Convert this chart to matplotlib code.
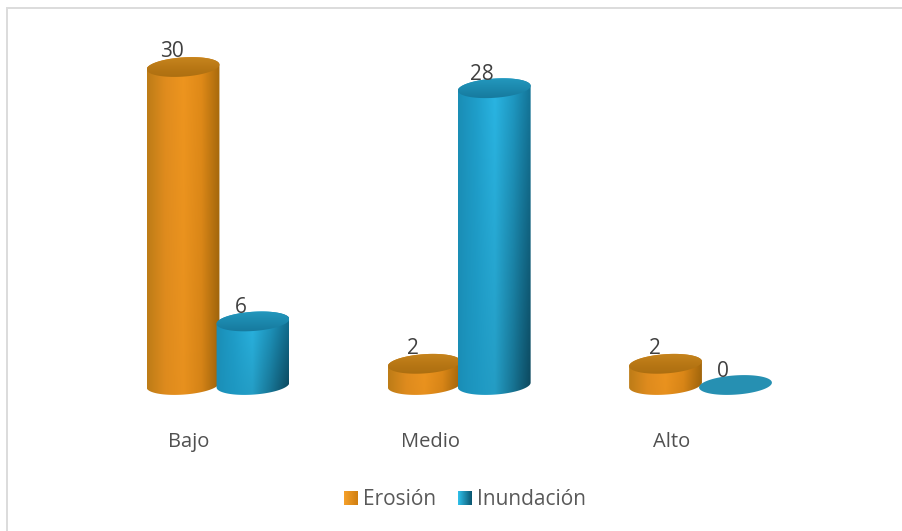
import matplotlib
matplotlib.use("Agg")
import matplotlib.pyplot as plt
import numpy as np
from matplotlib.colors import LinearSegmentedColormap
from matplotlib.patches import Polygon

categories = ["Bajo", "Medio", "Alto"]
erosion = [30, 2, 2]
inundacion = [6, 28, 0]

W, H = 902, 531
PX_X = 241.25  # pixels per category
PX_Y = 10.6  # pixels per unit of value
X0, Y0 = 218, 385

ORANGE = ["#bd7c17", "#e08c1e", "#ee951f", "#e08a18", "#a86a0c"]
ORANGE_CAP = ["#c8861f", "#b97815", "#ac6e10"]
BLUE = ["#1a8db5", "#1f9fcb", "#2ab6e4", "#1f9ac4", "#137396"]
BLUE_CAP = ["#2499bf", "#1c89ae", "#16799d"]

plt.rcParams["font.family"] = ["Open Sans", "DejaVu Sans"]

fig = plt.figure(figsize=(W / 100, H / 100), dpi=100)
ax = fig.add_axes([0, 0, 1, 1])
ax.axis("off")


def px_x(x):
    return (x - X0) / PX_X


def px_y(y):
    return (Y0 - y) / PX_Y


def ellipse(cx, cy, t):
    # slightly tilted ellipse, right side raised
    a, b, tilt = 36.5 / PX_X, 9.6 / PX_Y, np.radians(4)
    ex = a * np.cos(t)
    ey = b * np.sin(t)
    dx = ex * np.cos(tilt) - ey * np.sin(tilt) * PX_Y / PX_X
    dy = ey * np.cos(tilt) + ex * np.sin(tilt) * PX_X / PX_Y
    return np.column_stack([cx + dx, cy + dy])


def paint(rgb, clip, extent, zorder):
    im = ax.imshow(rgb, extent=extent, aspect="auto", zorder=zorder, interpolation="bilinear")
    im.set_clip_path(clip)


def cylinder(cx, value, colors, cap_colors, fade, zorder):
    t = np.linspace(0, 2 * np.pi, 160)
    half = 36.5 / PX_X
    top = ellipse(cx, value, t)
    if value <= 0:
        ax.add_patch(Polygon(top, closed=True, fc="#2690b2", ec="none", zorder=zorder))
        return

    lower = ellipse(cx, 0, np.linspace(np.pi, 2 * np.pi, 80))
    upper = ellipse(cx, value, np.linspace(0, np.pi, 80))
    body = Polygon(np.vstack([lower, upper]), closed=True, fc="none", ec="none")
    ax.add_patch(body)

    # horizontal shading, darkened towards the lower right corner
    u = np.linspace(0, 1, 128)
    v = np.linspace(0, 1, 128)
    uu, vv = np.meshgrid(u, v)
    base = LinearSegmentedColormap.from_list("body", colors)(uu)[..., :3]
    shade = 1 - fade * vv * uu ** 1.5
    paint(base * shade[..., None], body, (cx - half, cx + half, -1.2, value + 1.2), zorder)

    cap = Polygon(top, closed=True, fc="none", ec="none")
    ax.add_patch(cap)
    cap_rgb = LinearSegmentedColormap.from_list("cap", cap_colors)(v)[:, :3].reshape(-1, 1, 3)
    paint(cap_rgb, cap, (cx - half, cx + half, value - 1, value + 1), zorder + 0.1)


for i in range(len(categories)):
    cylinder(i - 0.145, erosion[i], ORANGE, ORANGE_CAP, 0.08, 2)
    cylinder(i + 0.145, inundacion[i], BLUE, BLUE_CAP, 0.4, 3)

# value labels sit just above each cap
text_color = "#404040"
for i in range(len(categories)):
    ax.text(i - 0.19, erosion[i] + 1.42, str(erosion[i]), ha="center", va="center",
            fontsize=15, color=text_color, zorder=5)
    ax.text(i + 0.095, inundacion[i] + 1.27, str(inundacion[i]), ha="center", va="center",
            fontsize=15, color=text_color, zorder=5)
    ax.text(i - 0.12, px_y(442), categories[i], ha="center", va="center", fontsize=14.5,
            color="#505050", zorder=5)

# legend
for x, label, colors in [(344, "Erosión", ["#f5a02a", "#d07f10"]),
                         (458, "Inundación", ["#2fc0ea", "#0b5670"])]:
    cmap = LinearSegmentedColormap.from_list("leg", colors)
    ax.imshow(np.linspace(0, 1, 32).reshape(1, -1), cmap=cmap, aspect="auto",
              extent=(px_x(x), px_x(x + 14), px_y(505), px_y(491)), zorder=4)
    ax.text(px_x(x + 19), px_y(499.5), label, ha="left", va="center", fontsize=15, color="#595959")

ax.set_xlim(-X0 / PX_X, (W - X0) / PX_X)
ax.set_ylim(-(H - Y0) / PX_Y, Y0 / PX_Y)

# chart frame, top and left edges only
ax.plot([px_x(6.5), px_x(6.5), px_x(902)], [px_y(531), px_y(7.5), px_y(7.5)], color="#dcdcdc",
        lw=1.4, solid_joinstyle="miter", zorder=1, clip_on=False)

fig.savefig("out.png", dpi=100)
